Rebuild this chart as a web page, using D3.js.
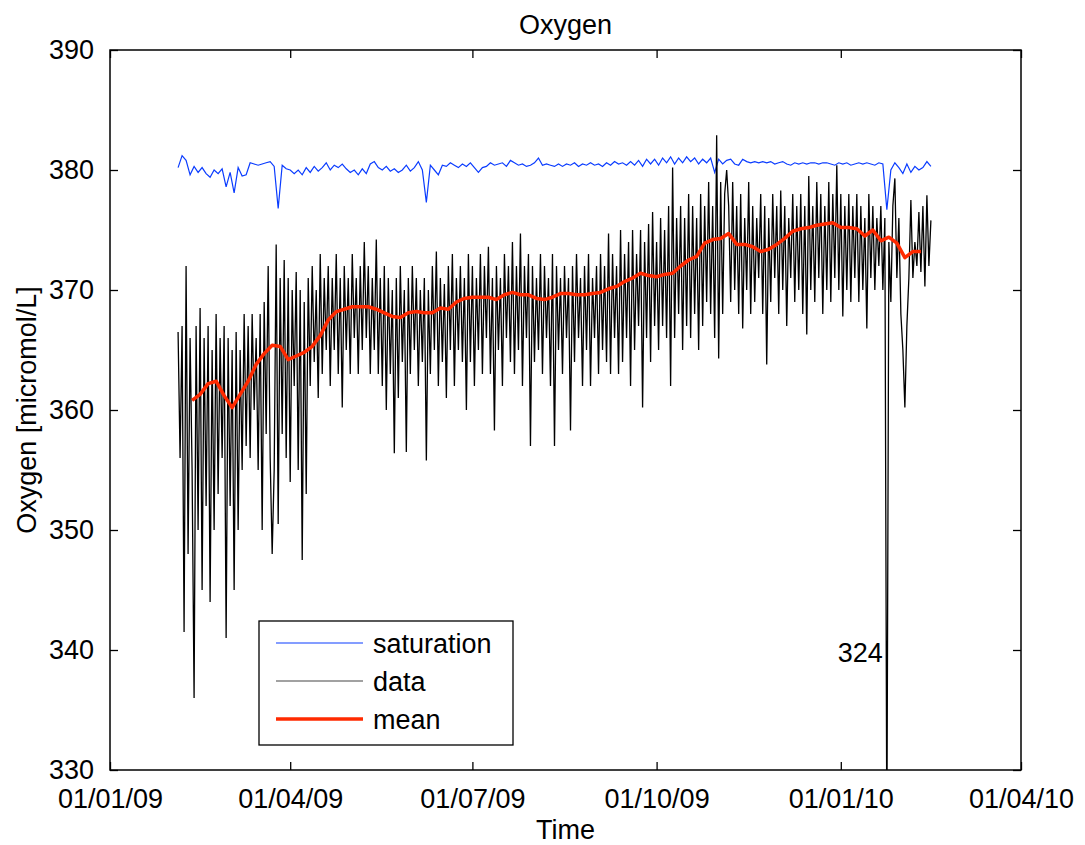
<!DOCTYPE html>
<html>
<head>
<meta charset="utf-8">
<script src="https://cdn.jsdelivr.net/npm/d3@7"></script>
<style>
  body { margin: 0; background: #fff; }
  svg text { font-family: "Liberation Sans", Arial, Helvetica, sans-serif; fill: #000; }
</style>
</head>
<body>
<div id="chart"></div>
<script>
// Data (values in micromol/L)

// black "data" series: one value per day, starting 2009-01-01 + 34 days
var dataStartDay = 34;
var dataValues = [
  366.5, 356, 367, 341.5, 372, 348, 366, 355, 336, 367,
  350, 368.5, 345, 366, 352, 367, 344, 365, 350, 368,
  353, 366, 356, 367, 341, 366, 352, 365, 345, 366.5,
  350, 365, 355, 368, 357, 367, 356, 368, 360, 366,
  355, 368, 350, 369, 358, 372, 356, 348, 355, 373.8,
  350.5, 371, 358, 372.5, 356, 371, 354, 370, 362, 371.5,
  355, 370, 347.5, 369, 353, 371, 362, 372, 364, 370,
  361, 373, 363, 371, 365, 372, 362, 371, 365, 373,
  363, 371, 360.2, 372, 365, 371, 363, 373, 366, 371,
  363, 372, 365, 374, 366, 372, 363, 371, 365, 374.2,
  363, 371, 362, 372, 360, 371, 363, 370, 356.4, 371,
  361, 372, 364, 370, 356.5, 371, 363, 372, 365, 371,
  362, 370, 364, 371, 355.8, 370, 363, 372, 365, 373.2,
  362, 371, 364, 370.5, 361, 372, 365, 373, 362, 371,
  365, 372, 364, 371, 360, 373, 364, 372, 362, 371,
  365, 373, 363, 372, 366, 373.6, 363, 371, 358.3, 372,
  365, 371, 362, 373, 366, 372, 364, 374, 363, 372,
  365, 374.7, 362, 372, 366, 373, 357, 372, 364, 371,
  365, 373, 363, 372, 366, 371, 362, 373, 357, 372,
  365, 371, 363, 372, 366, 371, 358.3, 372, 364, 373,
  366, 371, 362, 372, 365, 373, 362, 371, 366, 372,
  363, 373, 365, 372, 364, 374.7, 363, 373, 366, 372,
  363, 375, 364, 373, 366, 374, 362, 375, 365, 373,
  367, 375, 360.2, 374, 366, 375.5, 364, 376.5, 367, 374,
  365, 376, 367, 375, 366, 377, 362, 380.2, 366, 376,
  368, 377, 365, 376, 367, 378, 366, 377, 368, 376,
  365, 378, 367, 377, 369, 379, 368, 377, 366, 382.9,
  364.3, 379, 368, 378, 380, 377, 369, 379, 370, 377,
  368, 378, 366.8, 376, 370, 379, 368, 377, 369, 376,
  371, 378, 368, 377, 363.8, 376, 369, 378, 371, 377,
  368, 378.3, 370, 377, 367, 376, 371, 378, 369, 377,
  370, 378, 368, 377, 366.3, 379.5, 370, 377, 369, 379,
  371, 378, 368, 377, 370, 379, 369, 378, 371, 380.4,
  370, 378, 367.8, 377, 370, 378, 369, 377, 371, 378,
  369, 377, 370, 376, 366.8, 378, 371, 377, 370, 376,
  372, 377, 370, 376, 324, 374, 369, 377, 379.3, 371,
  376, 368, 365, 360.2, 367, 371, 377.5, 371, 374, 372,
  376.5, 371.5, 377, 370.3, 377.9, 372, 375.8
];

// blue "saturation" series: one value every 2 days, starting day 34
var satStartDay = 34;
var satStep = 2;
var satValues = [
  380.2, 381.2, 380.8, 379.6, 380.3, 379.8, 380.2, 379.7, 379.4, 380.0,
  379.7, 380.1, 378.6, 379.8, 378.1, 380.2, 379.5, 379.6, 380.6, 380.5,
  380.4, 380.5, 380.6, 380.7, 380.3, 376.8, 380.4, 380.1, 380.0, 379.7,
  380.0, 379.6, 380.2, 379.8, 380.3, 379.9, 380.2, 380.6, 380.0, 380.4,
  380.2, 380.5, 380.1, 379.8, 380.0, 379.6, 380.1, 379.7, 380.5, 380.7,
  380.2, 380.0, 380.3, 379.9, 380.1, 379.8, 380.0, 380.4, 379.9, 380.2,
  380.7, 380.0, 377.3, 380.4, 380.0, 379.6, 380.4, 380.3, 380.6, 380.4,
  380.2, 380.5, 380.3, 380.6, 380.2, 379.8, 380.2, 380.3, 380.6, 380.4,
  380.5, 380.6, 380.3, 380.8, 380.6, 380.4, 380.5, 380.3, 380.4, 380.6,
  381.0, 380.4, 380.5, 380.4, 380.3, 380.5, 380.3, 380.5, 380.4, 380.6,
  380.3, 380.5, 380.4, 380.6, 380.4, 380.5, 380.3, 380.6, 380.4, 380.7,
  380.5, 380.6, 380.4, 380.7, 380.4, 380.8, 380.3, 380.9, 380.5, 380.9,
  380.4, 381.0, 380.6, 381.1, 380.5, 381.0, 380.6, 381.1, 380.7, 381.0,
  380.5, 380.9, 380.6, 381.0, 379.8, 380.9, 380.5, 380.8, 380.9, 380.5,
  380.4, 380.9, 380.7, 380.6, 380.7, 380.6, 380.7, 380.6, 380.7, 380.5,
  380.6, 380.7, 380.5, 380.4, 380.6, 380.5, 380.6, 380.5, 380.6, 380.6,
  380.5, 380.6, 380.6, 380.5, 380.4, 380.6, 380.5, 380.6, 380.4, 380.5,
  380.6, 380.5, 380.6, 380.5, 380.4, 380.6, 380.5, 376.7, 380.0, 380.6,
  380.2, 379.7, 380.5, 379.8, 380.3, 380.0, 380.2, 380.7, 380.3
];

// red "mean" series: one value every 4 days, starting day 41
var meanStartDay = 41;
var meanStep = 4;
var meanValues = [
  360.8, 361.3, 362.2, 362.4, 361.2, 360.2, 361.3, 362.4, 363.8, 364.7,
  365.4, 365.3, 364.2, 364.5, 364.8, 365.3, 366.2, 367.5, 368.2, 368.4,
  368.6, 368.6, 368.6, 368.4, 368.1, 367.8, 367.7, 368.1, 368.2, 368.1,
  368.1, 368.5, 368.4, 369.0, 369.3, 369.4, 369.4, 369.4, 369.2, 369.6,
  369.8, 369.6, 369.6, 369.3, 369.2, 369.4, 369.7, 369.7, 369.6, 369.6,
  369.7, 369.8, 370.1, 370.3, 370.7, 371.0, 371.4, 371.2, 371.1, 371.3,
  371.4, 372.0, 372.5, 372.8, 373.9, 374.2, 374.3, 374.7, 373.8, 373.8,
  373.6, 373.2, 373.4, 373.8, 374.3, 374.9, 375.1, 375.2, 375.4, 375.5,
  375.6, 375.2, 375.2, 375.1, 374.5, 375.0, 374.1, 374.4, 373.9, 372.7,
  373.2, 373.2
];

var annotationText = "324";
var annotationDay = 388;
var annotationValue = 340;

var xTickDates = ["2009-01-01", "2009-04-01", "2009-07-01", "2009-10-01", "2010-01-01", "2010-04-01"];
var xTickLabels = ["01/01/09", "01/04/09", "01/07/09", "01/10/09", "01/01/10", "01/04/10"];
var yTicks = [330, 340, 350, 360, 370, 380, 390];

var legendKeys = ["saturation", "data", "mean"];

// Layout
var W = 1085, H = 845;
var margin = { left: 110, right: 64, top: 50, bottom: 75 };
var width = W - margin.left - margin.right;
var height = H - margin.top - margin.bottom;

function dayToDate(d) {
  var t = new Date(Date.UTC(2009, 0, 1));
  return new Date(t.getTime() + d * 86400000);
}
function parseDay(s) {
  var p = s.split("-");
  return new Date(Date.UTC(+p[0], +p[1] - 1, +p[2]));
}

var xScale = d3.scaleUtc()
  .domain([parseDay(xTickDates[0]), parseDay(xTickDates[xTickDates.length - 1])])
  .range([0, width]);
var yScale = d3.scaleLinear().domain([330, 390]).range([height, 0]);

var dataSeries = dataValues.map(function (v, i) { return [dayToDate(dataStartDay + i), v]; });
var satSeries = satValues.map(function (v, i) { return [dayToDate(satStartDay + i * satStep), v]; });
var meanSeries = meanValues.map(function (v, i) { return [dayToDate(meanStartDay + i * meanStep), v]; });

var svg = d3.select("#chart").append("svg")
  .attr("width", W).attr("height", H)
  .append("g")
  .attr("transform", `translate(${margin.left},${margin.top})`);

svg.append("clipPath").attr("id", "plotclip")
  .append("rect").attr("width", width).attr("height", height);

var line = d3.line()
  .x(function (d) { return xScale(d[0]); })
  .y(function (d) { return yScale(d[1]); });

var plot = svg.append("g").attr("clip-path", "url(#plotclip)");

plot.append("path")
  .attr("fill", "none").attr("stroke", "#0a3cff").attr("stroke-width", 1.2)
  .attr("d", line(satSeries));

plot.append("path")
  .attr("fill", "none").attr("stroke", "#000").attr("stroke-width", 1.3)
  .attr("d", line(dataSeries));

plot.append("path")
  .attr("fill", "none").attr("stroke", "#ff2a00").attr("stroke-width", 3.5)
  .attr("stroke-linejoin", "round")
  .attr("d", line(meanSeries));

// annotation for the clipped low value
svg.append("text")
  .attr("x", xScale(dayToDate(annotationDay)) - 4)
  .attr("y", yScale(annotationValue) + 12)
  .attr("text-anchor", "end")
  .style("font-size", "27px")
  .text(annotationText);

// Axes (MATLAB style box with inward ticks)
var tickLen = 8;
var xTickVals = xTickDates.map(parseDay);

var xAxis = svg.append("g").attr("transform", `translate(0,${height})`)
  .call(d3.axisBottom(xScale).tickValues(xTickVals)
    .tickFormat(function (d, i) { return xTickLabels[i]; })
    .tickSizeInner(-tickLen).tickSizeOuter(0).tickPadding(tickLen + 11));
var xAxisTop = svg.append("g")
  .call(d3.axisTop(xScale).tickValues(xTickVals).tickFormat("")
    .tickSizeInner(-tickLen).tickSizeOuter(0));
var yAxis = svg.append("g")
  .call(d3.axisLeft(yScale).tickValues(yTicks)
    .tickSizeInner(-tickLen).tickSizeOuter(0).tickPadding(tickLen + 8));
var yAxisRight = svg.append("g").attr("transform", `translate(${width},0)`)
  .call(d3.axisRight(yScale).tickValues(yTicks).tickFormat("")
    .tickSizeInner(-tickLen).tickSizeOuter(0));

[xAxis, xAxisTop, yAxis, yAxisRight].forEach(function (a) {
  a.select(".domain").remove();
  a.selectAll(".tick line").attr("stroke", "#000").attr("stroke-width", 1.3);
  a.selectAll("text").style("font-size", "27px").attr("fill", "#000");
});
xAxis.selectAll("text").attr("dy", "0.71em");
yAxis.selectAll("text").attr("dy", "0.3em");

svg.append("rect")
  .attr("width", width).attr("height", height)
  .attr("fill", "none").attr("stroke", "#000").attr("stroke-width", 1.5);

// Legend
var legendColor = { saturation: "#0a3cff", data: "#444", mean: "#ff2a00" };
var legendWidth = { saturation: 1.2, data: 1.2, mean: 3.5 };
var legend = svg.append("g").attr("transform", `translate(${259 - margin.left},${621 - margin.top})`);
legend.append("rect")
  .attr("width", 254).attr("height", 124)
  .attr("fill", "#fff").attr("stroke", "#000").attr("stroke-width", 1.3);
legend.selectAll("line.key").data(legendKeys).enter().append("line")
  .attr("x1", 17).attr("x2", 104)
  .attr("y1", function (d, i) { return 22 + i * 38; })
  .attr("y2", function (d, i) { return 22 + i * 38; })
  .attr("stroke", function (d) { return legendColor[d]; })
  .attr("stroke-width", function (d) { return legendWidth[d]; });
legend.selectAll("text.key").data(legendKeys).enter().append("text")
  .attr("x", 114)
  .attr("y", function (d, i) { return 22 + i * 38; })
  .attr("dy", "0.36em")
  .style("font-size", "27px")
  .text(function (d) { return d; });

// Title and axis labels
svg.append("text")
  .attr("x", width / 2).attr("y", -16)
  .attr("text-anchor", "middle").style("font-size", "27px")
  .text("Oxygen");

svg.append("text")
  .attr("x", width / 2).attr("y", height + 69)
  .attr("text-anchor", "middle").style("font-size", "27px")
  .text("Time");

svg.append("text")
  .attr("transform", "rotate(-90)")
  .attr("x", -height / 2).attr("y", -74)
  .attr("text-anchor", "middle").style("font-size", "27px")
  .text("Oxygen [micromol/L]");
</script>
</body>
</html>
